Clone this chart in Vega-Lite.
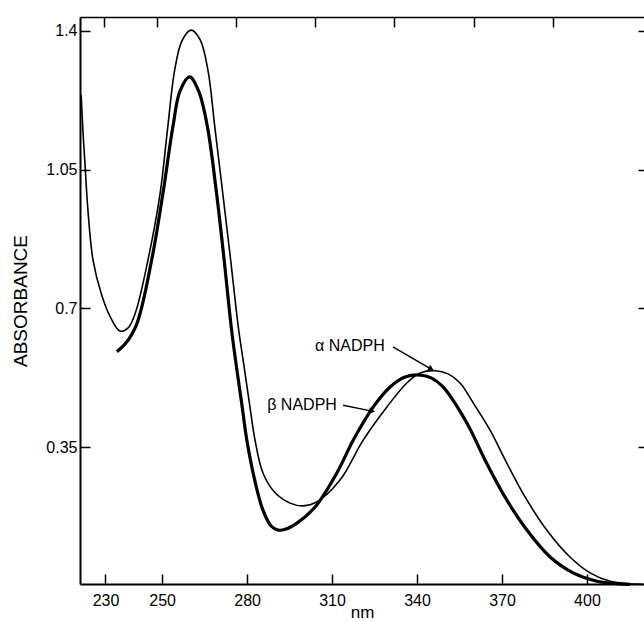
{
  "$schema": "https://vega.github.io/schema/vega-lite/v6.json",
  "width": 564,
  "height": 567,
  "autosize": {"type": "none"},
  "padding": {"left": 80, "top": 17, "right": 0, "bottom": 38},
  "background": "white",
  "view": {"stroke": null},
  "config": {
    "font": "Liberation Sans",
    "axis": {
      "labelFont": "Liberation Sans",
      "labelFontSize": 16,
      "labelColor": "black",
      "titleFont": "Liberation Sans",
      "titleFontSize": 17,
      "titleFontWeight": "normal",
      "titleColor": "black",
      "tickColor": "black",
      "domainColor": "black",
      "grid": false
    }
  },
  "datasets": {
    "curves": [
      {"s": "a", "nm": 221.4, "a": 1.238}, {"s": "a", "nm": 222.1, "a": 1.140}, {"s": "a", "nm": 222.8, "a": 1.060},
      {"s": "a", "nm": 223.8, "a": 0.948}, {"s": "a", "nm": 225.6, "a": 0.822}, {"s": "a", "nm": 228.6, "a": 0.735},
      {"s": "a", "nm": 231.6, "a": 0.680}, {"s": "a", "nm": 235.1, "a": 0.643}, {"s": "a", "nm": 238.0, "a": 0.651},
      {"s": "a", "nm": 240.6, "a": 0.690}, {"s": "a", "nm": 245.0, "a": 0.822}, {"s": "a", "nm": 249.3, "a": 0.991},
      {"s": "a", "nm": 252.0, "a": 1.158}, {"s": "a", "nm": 254.4, "a": 1.300}, {"s": "a", "nm": 257.0, "a": 1.375},
      {"s": "a", "nm": 260.2, "a": 1.402}, {"s": "a", "nm": 263.4, "a": 1.378}, {"s": "a", "nm": 266.2, "a": 1.300},
      {"s": "a", "nm": 268.6, "a": 1.158}, {"s": "a", "nm": 271.4, "a": 0.991}, {"s": "a", "nm": 274.2, "a": 0.822},
      {"s": "a", "nm": 276.9, "a": 0.653}, {"s": "a", "nm": 278.8, "a": 0.560}, {"s": "a", "nm": 280.8, "a": 0.462},
      {"s": "a", "nm": 282.8, "a": 0.368}, {"s": "a", "nm": 285.6, "a": 0.285}, {"s": "a", "nm": 289.9, "a": 0.235},
      {"s": "a", "nm": 295.2, "a": 0.209}, {"s": "a", "nm": 299.8, "a": 0.202}, {"s": "a", "nm": 304.6, "a": 0.212},
      {"s": "a", "nm": 312.8, "a": 0.267}, {"s": "a", "nm": 321.0, "a": 0.368}, {"s": "a", "nm": 329.3, "a": 0.451},
      {"s": "a", "nm": 336.4, "a": 0.512}, {"s": "a", "nm": 341.1, "a": 0.537}, {"s": "a", "nm": 346.4, "a": 0.543},
      {"s": "a", "nm": 351.0, "a": 0.535}, {"s": "a", "nm": 355.2, "a": 0.512}, {"s": "a", "nm": 360.0, "a": 0.460},
      {"s": "a", "nm": 365.8, "a": 0.393}, {"s": "a", "nm": 371.7, "a": 0.310}, {"s": "a", "nm": 378.2, "a": 0.224},
      {"s": "a", "nm": 385.8, "a": 0.141}, {"s": "a", "nm": 394.0, "a": 0.073}, {"s": "a", "nm": 401.1, "a": 0.033},
      {"s": "a", "nm": 408.2, "a": 0.012}, {"s": "a", "nm": 419.8, "a": 0.004},
      {"s": "b", "nm": 234.0, "a": 0.591}, {"s": "b", "nm": 236.9, "a": 0.610}, {"s": "b", "nm": 241.0, "a": 0.660},
      {"s": "b", "nm": 246.3, "a": 0.822}, {"s": "b", "nm": 250.3, "a": 0.991}, {"s": "b", "nm": 253.8, "a": 1.158},
      {"s": "b", "nm": 256.3, "a": 1.248}, {"s": "b", "nm": 259.7, "a": 1.284}, {"s": "b", "nm": 262.9, "a": 1.248},
      {"s": "b", "nm": 266.0, "a": 1.158}, {"s": "b", "nm": 269.2, "a": 0.991}, {"s": "b", "nm": 271.9, "a": 0.822},
      {"s": "b", "nm": 274.4, "a": 0.653}, {"s": "b", "nm": 276.3, "a": 0.550}, {"s": "b", "nm": 278.2, "a": 0.455},
      {"s": "b", "nm": 279.9, "a": 0.368}, {"s": "b", "nm": 282.6, "a": 0.270}, {"s": "b", "nm": 285.4, "a": 0.195},
      {"s": "b", "nm": 288.4, "a": 0.152}, {"s": "b", "nm": 290.9, "a": 0.141}, {"s": "b", "nm": 293.5, "a": 0.143},
      {"s": "b", "nm": 297.5, "a": 0.158}, {"s": "b", "nm": 304.0, "a": 0.199}, {"s": "b", "nm": 311.7, "a": 0.285},
      {"s": "b", "nm": 317.5, "a": 0.368}, {"s": "b", "nm": 324.5, "a": 0.451}, {"s": "b", "nm": 330.5, "a": 0.502},
      {"s": "b", "nm": 335.8, "a": 0.527}, {"s": "b", "nm": 341.1, "a": 0.532}, {"s": "b", "nm": 345.0, "a": 0.525},
      {"s": "b", "nm": 349.2, "a": 0.502}, {"s": "b", "nm": 357.6, "a": 0.411}, {"s": "b", "nm": 364.0, "a": 0.318},
      {"s": "b", "nm": 371.1, "a": 0.224}, {"s": "b", "nm": 378.8, "a": 0.141}, {"s": "b", "nm": 387.0, "a": 0.073},
      {"s": "b", "nm": 395.1, "a": 0.033}, {"s": "b", "nm": 403.5, "a": 0.012}, {"s": "b", "nm": 415.2, "a": 0.004}
    ],
    "notes": [
      {"label": "α NADPH", "tx": 304.0, "ty": 0.605, "x1": 331.5, "y1": 0.603, "x2": 345.0, "y2": 0.547},
      {"label": "β NADPH", "tx": 287.1, "ty": 0.456, "x1": 313.9, "y1": 0.456, "x2": 324.1, "y2": 0.441}
    ]
  },
  "layer": [
    {
      "data": {"name": "curves"},
      "transform": [{"filter": "datum.s === 'a'"}],
      "mark": {"type": "line", "color": "black", "strokeWidth": 1.6, "interpolate": "catmull-rom"},
      "encoding": {
        "x": {"field": "nm", "type": "quantitative",
              "scale": {"domain": [221.0, 420.15], "nice": false, "zero": false},
              "axis": {"orient": "bottom", "values": [230, 250, 280, 310, 340, 370, 400], "tickSize": -10, "tickWidth": 1.5,
                       "labelPadding": 18, "domainWidth": 2, "title": "nm", "titlePadding": -4, "labelFlush": false}},
        "y": {"field": "a", "type": "quantitative",
              "scale": {"domain": [0.005, 1.435], "nice": false, "zero": false},
              "axis": {"orient": "left", "values": [0.35, 0.7, 1.05, 1.4], "format": ".2~f", "tickSize": -10, "tickWidth": 1.5,
                       "labelPadding": 13, "domainWidth": 2, "title": "ABSORBANCE", "titleFontSize": 19, "titlePadding": 15}}
      }
    },
    {
      "data": {"name": "curves"},
      "transform": [{"filter": "datum.s === 'b'"}],
      "mark": {"type": "line", "color": "black", "strokeWidth": 3.2, "interpolate": "catmull-rom"},
      "encoding": {
        "x": {"field": "nm", "type": "quantitative", "scale": {"domain": [221.0, 420.15], "nice": false, "zero": false}, "axis": null},
        "y": {"field": "a", "type": "quantitative", "axis": null}
      }
    },
    {
      "data": {"name": "notes"},
      "mark": {"type": "rule", "color": "black", "strokeWidth": 1.5},
      "encoding": {
        "x": {"field": "x1", "type": "quantitative", "scale": {"domain": [221.0, 420.15], "nice": false, "zero": false}, "axis": null},
        "x2": {"field": "x2"},
        "y": {"field": "y1", "type": "quantitative", "axis": null},
        "y2": {"field": "y2"}
      }
    },
    {
      "data": {"name": "notes"},
      "transform": [{"filter": "datum.label === 'α NADPH'"}],
      "mark": {"type": "point", "shape": "triangle-right", "filled": true, "color": "black", "opacity": 1, "size": 45, "angle": 29},
      "encoding": {
        "x": {"field": "x2", "type": "quantitative", "scale": {"domain": [221.0, 420.15], "nice": false, "zero": false}, "axis": null},
        "y": {"field": "y2", "type": "quantitative", "axis": null}
      }
    },
    {
      "data": {"name": "notes"},
      "transform": [{"filter": "datum.label === 'β NADPH'"}],
      "mark": {"type": "point", "shape": "triangle-right", "filled": true, "color": "black", "opacity": 1, "size": 45, "angle": 12},
      "encoding": {
        "x": {"field": "x2", "type": "quantitative", "scale": {"domain": [221.0, 420.15], "nice": false, "zero": false}, "axis": null},
        "y": {"field": "y2", "type": "quantitative", "axis": null}
      }
    },
    {
      "data": {"name": "notes"},
      "mark": {"type": "text", "align": "left", "baseline": "middle", "font": "Liberation Sans", "fontSize": 16, "color": "black"},
      "encoding": {
        "x": {"field": "tx", "type": "quantitative", "scale": {"domain": [221.0, 420.15], "nice": false, "zero": false}, "axis": null},
        "y": {"field": "ty", "type": "quantitative", "axis": null},
        "text": {"field": "label"}
      }
    },
    {
      "data": {"name": "curves"},
      "mark": {"type": "point", "opacity": 0},
      "encoding": {
        "x": {"field": "nm", "type": "quantitative",
              "scale": {"domain": [220.9, 434.5], "nice": false, "zero": false},
              "axis": {"orient": "top", "values": [230, 250, 280, 310, 340, 370, 400], "labels": false, "tickSize": -10, "tickWidth": 1.5,
                       "domainWidth": 1.5, "title": null}},
        "y": {"field": "a", "type": "quantitative",
              "axis": {"orient": "right", "values": [0.35, 0.7, 1.05, 1.4], "labels": false, "tickSize": -6, "tickWidth": 1.5,
                       "domain": false, "title": null}}
      }
    }
  ],
  "resolve": {"scale": {"x": "independent"}, "axis": {"y": "independent"}}
}
